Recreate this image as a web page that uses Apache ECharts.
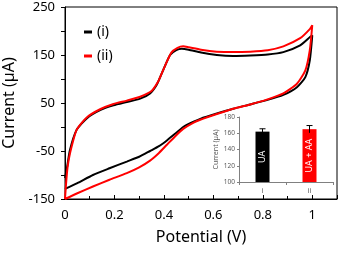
<!DOCTYPE html>
<html><head><meta charset="utf-8">
<script src="https://cdn.jsdelivr.net/npm/echarts@6/dist/echarts.min.js"></script>
<style>html,body{margin:0;padding:0;background:#fff}#c{width:339px;height:253px}</style>
</head><body><div id="c"></div>
<script>
// Series (i): black CV loop [potential V, current µA]
const potI = [0,0.05,0.113,0.18,0.25,0.3,0.344,0.38,0.412,0.45,0.478,0.52,0.547,0.614,0.68,0.749,0.816,0.883,0.938,0.972,0.99,1.0,
  0.992,0.951,0.883,0.82,0.749,0.68,0.614,0.55,0.5,0.472,0.45,0.425,0.4,0.385,0.37,0.344,0.304,0.25,0.196,0.142,0.088,0.047,0.02,0.007,0];
const curI = [-129,-117,-100,-86,-72,-62,-50,-40,-28,-12,0,11,17,28,38,47,56,67,83,104,139,191,
  188,170,156,151,149,148,150,155,161,163,160,150,122,104,87,70,59,52,45,35,18,-6,-48,-88,-106];
// Series (ii): red CV loop
const potII = [0,0.05,0.113,0.18,0.25,0.3,0.344,0.38,0.412,0.45,0.478,0.52,0.547,0.614,0.68,0.749,0.816,0.883,0.938,0.972,0.99,1.0,
  0.99,0.951,0.883,0.82,0.749,0.68,0.614,0.55,0.5,0.478,0.455,0.43,0.405,0.39,0.375,0.35,0.304,0.25,0.196,0.142,0.088,0.047,0.02,0.01,0.004,0];
const curII = [-150,-138,-124,-110,-96,-84,-70,-54,-37,-17,-4,9,15,27,38,47,57,70,90,118,160,212,
  204,185,168,160,157,156,157,161,166,168,165,155,128,110,93,75,63,55,48,37,20,-6,-55,-85,-120,-150];
const legendNames = ['(i)','(ii)'];
// Inset bar chart
const insetCats = ['i','ii'];
const insetBarLabels = ['UA','UA + AA'];
const insetVals = [162,165];
const insetErr = [3.5,4.5];

const toPairs = (xs, ys) => xs.map((x,i)=>[x,ys[i]]);
const chart = echarts.init(document.getElementById('c'));
const font = 'Noto Sans';
chart.setOption({
  animation:false,
  textStyle:{fontFamily:font},
  legend:{
    data:legendNames, orient:'vertical', left:79, top:20, itemGap:10,
    icon:'rect', itemWidth:8, itemHeight:3,
    textStyle:{fontSize:14, color:'#000', fontFamily:font}
  },
  grid:[
    {left:65, right:2, top:7, bottom:54, show:true, borderColor:'#000', borderWidth:1,
     containLabel:false, outerBoundsMode:'none'},
    {left:239, right:6, top:117, bottom:71, backgroundColor:'#fff', show:true, borderWidth:0,
     containLabel:false, outerBoundsMode:'none'}
  ],
  xAxis:[
    {type:'value', gridIndex:0, min:0, max:1.1, interval:0.2,
     name:'Potential (V)', nameLocation:'middle', nameGap:30,
     nameTextStyle:{fontSize:16, color:'#000'},
     axisLine:{onZero:false, lineStyle:{color:'#000',width:1}},
     axisTick:{inside:true, length:4, lineStyle:{color:'#000'}},
     minorTick:{show:true, splitNumber:2, length:3, lineStyle:{color:'#000'}},
     splitLine:{show:false},
     axisLabel:{fontSize:13, color:'#000', margin:10, showMaxLabel:false}},
    {type:'category', gridIndex:1, data:insetCats,
     axisLine:{lineStyle:{color:'#808080'}},
     axisTick:{show:true, length:3, lineStyle:{color:'#808080'}},
     axisLabel:{fontSize:7, color:'#595959', margin:5}}
  ],
  yAxis:[
    {type:'value', gridIndex:0, min:-150, max:250, interval:100,
     name:'Current (µA)', nameLocation:'middle', nameGap:42,
     nameTextStyle:{fontSize:16, color:'#000'},
     axisLine:{show:true, onZero:false, lineStyle:{color:'#000',width:1}},
     axisTick:{show:true, length:4, lineStyle:{color:'#000'}},
     minorTick:{show:true, splitNumber:2, length:4, lineStyle:{color:'#000'}},
     splitLine:{show:false},
     axisLabel:{fontSize:13, color:'#000', margin:10}},
    {type:'value', gridIndex:1, min:100, max:180, interval:20,
     name:'Current (µA)', nameLocation:'middle', nameGap:20,
     nameTextStyle:{fontSize:7, color:'#595959'},
     axisLine:{show:true, lineStyle:{color:'#808080'}},
     axisTick:{show:true, length:2, lineStyle:{color:'#808080'}},
     splitLine:{show:false},
     axisLabel:{fontSize:6.5, color:'#595959', margin:4}}
  ],
  series:[
    {name:legendNames[0], type:'line', xAxisIndex:0, yAxisIndex:0, data:toPairs(potI,curI),
     smooth:0.2, showSymbol:false, lineStyle:{color:'#000', width:2}, itemStyle:{color:'#000'}, z:3},
    {name:legendNames[1], type:'line', xAxisIndex:0, yAxisIndex:0, data:toPairs(potII,curII),
     smooth:0.2, showSymbol:false, lineStyle:{color:'#ff0000', width:2}, itemStyle:{color:'#ff0000'}, z:4},
    {type:'bar', xAxisIndex:1, yAxisIndex:1, barWidth:14,
     data:insetVals.map((v,i)=>({value:v, itemStyle:{color:i===0?'#000':'#ff0000'},
       label:{show:true, formatter:insetBarLabels[i]}})),
     label:{show:true, position:'inside', rotate:90, color:'#fff', fontSize:9, fontFamily:font}},
    {type:'custom', xAxisIndex:1, yAxisIndex:1, z:10,
     data:insetVals.map((v,i)=>[i, v-insetErr[i], v+insetErr[i]]),
     renderItem:(params, api)=>{
       const lo = api.coord([api.value(0), api.value(1)]);
       const hi = api.coord([api.value(0), api.value(2)]);
       const w = 3;
       const st = {stroke:'#000', lineWidth:1};
       return {type:'group', children:[
         {type:'line', shape:{x1:hi[0],y1:hi[1],x2:lo[0],y2:lo[1]}, style:st},
         {type:'line', shape:{x1:hi[0]-w,y1:hi[1],x2:hi[0]+w,y2:hi[1]}, style:st}
       ]};
     }}
  ]
});
</script></body></html>
